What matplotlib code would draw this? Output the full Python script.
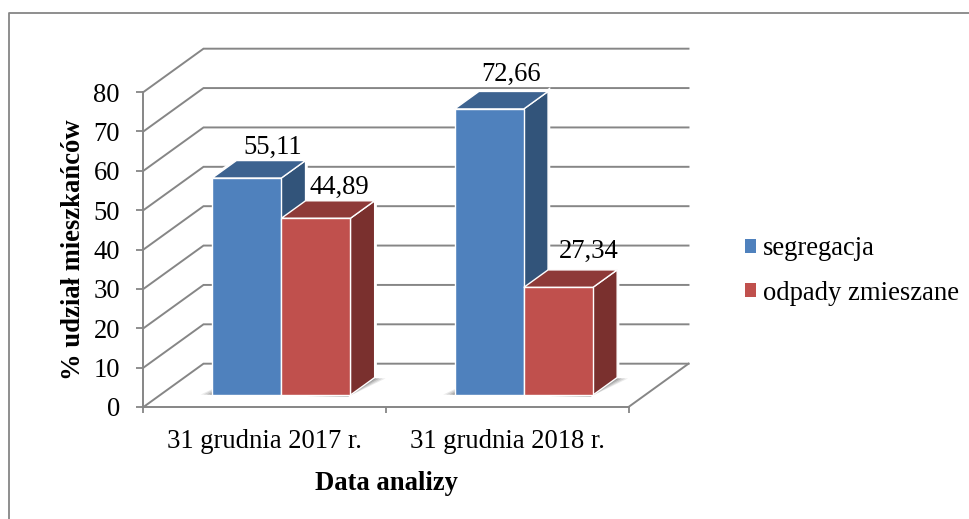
import matplotlib
matplotlib.use("Agg")
import matplotlib.pyplot as plt
from matplotlib.lines import Line2D
from matplotlib.patches import Patch

# Data
categories = ["31 grudnia 2017 r.", "31 grudnia 2018 r."]
segregacja = [55.11, 72.66]
zmieszane = [44.89, 27.34]
value_labels = [["55,11", "72,66"], ["44,89", "27,34"]]
series_names = ["segregacja", "odpady zmieszane"]
y_ticks = [0, 10, 20, 30, 40, 50, 60, 70, 80]

# Colours: front, top, side
blue = ("#4F81BD", "#3D6390", "#32547A")
red = ("#C0504D", "#8E3A38", "#7A302E")
grey = "#868686"

# Fake 3D: how far the back wall is shifted, in data units
depth_x = 60 / 242.5
depth_y = 11.0
bar_w = 0.285
d_front = 0.276
d_back = 0.68

W, H = 970, 519
plt.rcParams["font.family"] = ["Liberation Serif", "DejaVu Serif"]
font = 19.2

fig = plt.figure(figsize=(W / 100, H / 100), dpi=100)
ax = fig.add_axes([143.5 / W, 1 - 407 / H, 485 / W, 315 / H])
ax.set_xlim(0, 2)
ax.set_ylim(0, 80)
ax.patch.set_alpha(0)


def proj(x, v, d):
    return x + d * depth_x, v + d * depth_y


# Outer frame
fig.add_artist(Line2D([9.5 / W, 9.5 / W, 1], [0, 1 - 12.5 / H, 1 - 12.5 / H],
                      color=grey, lw=1.3))

# Walls and floor
for v in y_ticks:
    xs, ys = zip(proj(0, v, 0), proj(0, v, 1), proj(2, v, 1))
    ax.plot(xs, ys, color=grey, lw=1.4, zorder=1, clip_on=False,
            solid_joinstyle="miter")
xs, ys = zip(proj(2, 0, 0), proj(2, 0, 1))
ax.plot(xs, ys, color=grey, lw=1.4, zorder=1, clip_on=False)

# Soft shadow under each pair of bars
for i in range(2):
    xl = i + 0.5 - bar_w
    xr = i + 0.5 + bar_w
    for s, a in [(0.05, 0.12), (0.038, 0.16), (0.024, 0.22), (0.012, 0.3)]:
        pts = [proj(xl - s, 0, d_front + 0.01), proj(xr, 0, d_front - 0.035),
               proj(xr + s, 0, d_back - 0.02), proj(xl, 0, d_back)]
        xs, ys = zip(*pts)
        ax.fill(xs, ys, color="#555555", alpha=a, lw=0, zorder=3.5, clip_on=False)

# Bars
for k, (vals, cols) in enumerate([(segregacja, blue), (zmieszane, red)]):
    z = 4 + k * 3
    for i, v in enumerate(vals):
        x0 = i + 0.5 - bar_w + k * bar_w
        x1 = x0 + bar_w
        top = [proj(x0, v, d_front), proj(x1, v, d_front),
               proj(x1, v, d_back), proj(x0, v, d_back)]
        side = [proj(x1, 0, d_front), proj(x1, v, d_front),
                proj(x1, v, d_back), proj(x1, 0, d_back)]
        for poly, col in [(side, cols[2]), (top, cols[1])]:
            xs, ys = zip(*poly)
            ax.fill(xs, ys, color="white", lw=3.2, zorder=3, clip_on=False)
            ax.fill(xs, ys, facecolor=col, edgecolor="white", lw=1.0,
                    zorder=z, clip_on=False)
    x_front = [proj(i + 0.5 + (k - 0.5) * bar_w, 0, d_front)[0]
               for i in range(len(vals))]
    ax.bar(x_front, vals, bar_w, bottom=d_front * depth_y, color=cols[0],
           edgecolor="white", lw=1.0, zorder=z + 1, clip_on=False)

# Value labels, offset by hand in points like the original
offsets = [[(19, 22), (16, 25)], [(17, 22), (22, 26)]]
for k, vals in enumerate([segregacja, zmieszane]):
    for i, v in enumerate(vals):
        x = i + 0.5 + (k - 0.5) * bar_w
        px, py = proj(x, v, d_front)
        ax.annotate(value_labels[k][i], (px, py), xytext=offsets[k][i],
                    textcoords="offset points", ha="center", va="center",
                    fontsize=font, color="black", zorder=20,
                    annotation_clip=False)

# Axes
for name in ["top", "right"]:
    ax.spines[name].set_visible(False)
for name in ["left", "bottom"]:
    ax.spines[name].set_color(grey)
    ax.spines[name].set_linewidth(1.4)
ax.set_yticks(y_ticks)
ax.set_xticks([0, 1, 2])
ax.set_xticklabels([])
ax.set_xticks([0.5, 1.5], minor=True)
ax.set_xticklabels(categories, minor=True)
ax.tick_params(axis="y", length=5, width=1.3, color=grey, pad=12, labelsize=font)
ax.tick_params(axis="x", which="major", length=4, width=1.3, color=grey)
ax.tick_params(axis="x", which="minor", length=0, pad=16, labelsize=font)
ax.set_xlabel("Data analizy", fontsize=font, fontweight="bold", labelpad=12)
ax.set_ylabel("% udział mieszkańców", fontsize=font, fontweight="bold")
ax.yaxis.set_label_coords(-0.118, 0.5)

# Legend
handles = [Patch(facecolor=blue[0], label=series_names[0]),
           Patch(facecolor=red[0], label=series_names[1])]
fig.legend(handles=handles, loc="center left",
           bbox_to_anchor=(745 / W, 1 - 271 / H), frameon=False, fontsize=font,
           borderpad=0, borderaxespad=0, handlelength=0.42, handleheight=0.42,
           handletextpad=0.25, labelspacing=0.72)

fig.savefig("out.png", dpi=100)
